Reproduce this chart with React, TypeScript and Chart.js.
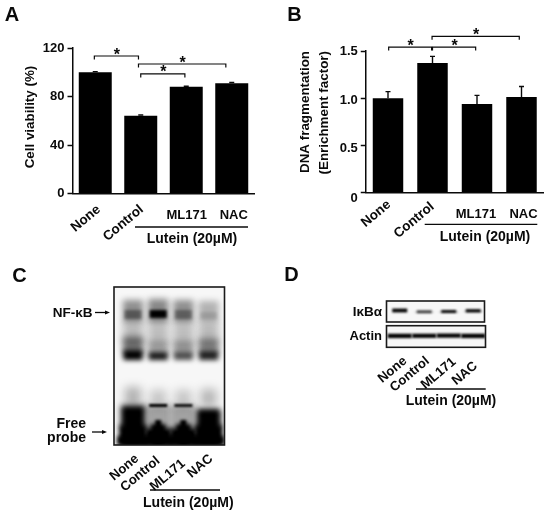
import { useEffect, useRef } from 'react';
import { Chart, registerables } from 'chart.js';

Chart.register(...registerables);

const FONT = '"Liberation Sans", Arial, sans-serif';
const INK = '#0a0a0a';

// ---- Panels A and B ----
const treatments = ['None', 'Control', 'ML171', 'NAC'];
const viability = [100, 64.2, 88, 91];
const viabilityErr = [0.5, 0.5, 0.5, 0.5];
const fragmentation = [1.0, 1.372, 0.94, 1.013];
const fragmentationErr = [0.07, 0.071, 0.09, 0.112];
const viabilityTicks = [0, 40, 80, 120];
const fragmentationTicks = [0, 0.5, 1.0, 1.5];
// bracket: [from category, to category, height on the value axis]
const viabilityBrackets = [
  [-0.02, 0.95, 113.4],
  [1.0, 1.97, 98.6],
  [0.95, 2.87, 106.8],
];
const fragmentationBrackets = [
  [0.015, 0.98, 1.542],
  [1.0, 1.97, 1.542],
  [0.99, 2.95, 1.655],
];

// ---- Panel C: gel bands, read as distance above the gel bottom ----
const upperSmear = { from: [122, 122, 122, 122], to: [145, 146, 145, 144], ink: [0.42, 0.45, 0.42, 0.28], width: 20, blur: 3 };
const nfkbBand = { from: [126, 127, 126, 126], to: [135, 135, 135, 133], ink: [0.4, 1, 0.35, 0.12], width: 17, blur: 1.8 };
const middleSmear = { from: [100, 100, 100, 100], to: [122, 122, 122, 122], ink: [0.26, 0.24, 0.24, 0.26], width: 20, blur: 4 };
const lowerSmear = { from: [90, 90, 90, 90], to: [108, 104, 104, 106], ink: [0.5, 0.32, 0.36, 0.45], width: 20, blur: 3 };
const lowerBand = { from: [85, 85, 85, 85], to: [95, 93, 93, 94], ink: [1, 0.9, 0.65, 0.85], width: 19, blur: 2.4 };
const probeFade = { from: [38, 38, 38, 38], to: [58, 55, 55, 56], ink: [0.28, 0.2, 0.2, 0.26], width: 16, blur: 5 };
const probeHalo = { from: [16, 16, 16, 16], to: [40, 40, 40, 36], ink: [0.6, 0.34, 0.34, 0.6], width: 25, blur: 3 };
const probeShift = { from: [0, 38, 38, 0], to: [0, 41, 41, 0], ink: [0, 1, 0.9, 0], width: 18, blur: 1.1 };
const probeShoulder = { from: [0, 0, 0, 0], to: [38, 0, 0, 35], ink: [1, 0, 0, 1], width: 21, blur: 2.4 };
const probeFoot = { from: [0, 0, 0, 0], to: [9, 9, 9, 9], ink: [1, 1, 1, 1], width: 31, blur: 2 };
const probeBase = { from: [0, 0, 0, 0], to: [20, 17, 17, 20], ink: [1, 1, 1, 1], width: 27, blur: 2.4 };
const probeRise = { from: [0, 0, 0, 0], to: [0, 21, 21, 0], ink: [0, 1, 1, 0], width: 15, blur: 2 };
const probePeak = { from: [0, 0, 0, 0], to: [0, 25, 25, 0], ink: [0, 1, 1, 0], width: 6, blur: 1.6 };
const probeNotch = { from: [17, 0, 0, 22], to: [34, 0, 0, 33], ink: [0.85, 0, 0, 0.8], width: 5, blur: 1.6, light: true };
const gelBands = [upperSmear, nfkbBand, middleSmear, lowerSmear, lowerBand, probeFade, probeHalo, probeShift, probeShoulder, probeFoot, probeBase, probeRise, probePeak, probeNotch];

// ---- Panel D: western blot bands, read as distance above each strip's bottom ----
const ikbaBand = { from: [9.6, 8.8, 9, 9.6], to: [13.4, 11.6, 12, 12.8], ink: [1, 0.75, 0.95, 1], width: 15, blur: 1 };
const ikbaTail = { from: [10, 9.4, 9.4, 10.2], to: [11.6, 10.4, 10.4, 11], ink: [0, 0.2, 0.25, 0.25], width: 20, blur: 1 };
const actinBand = { from: [9.2, 9.4, 9.6, 9.2], to: [13.6, 13.6, 13.8, 13.6], ink: [1, 1, 1, 1], width: 24, blur: 1 };

type Txt = { t: string; x: number; y: number; size?: number; align?: CanvasTextAlign };
type Extra = {
  errors?: number[];
  brackets?: number[][];
  texts?: Txt[];
  lines?: number[][];
  arrows?: number[][];
  frame?: boolean;
  nudge?: Record<string, number[][]>;
};

const noteText = (ctx: CanvasRenderingContext2D, n: Txt) => {
  ctx.font = `bold ${n.size ?? 13}px ${FONT}`;
  ctx.fillStyle = INK;
  ctx.textAlign = n.align ?? 'center';
  ctx.textBaseline = 'middle';
  ctx.fillText(n.t, n.x, n.y);
};

const overlay = (extra: Extra) => ({
  id: 'overlay',
  beforeDraw(chart: any) {
    Object.values(chart.scales).forEach((sc: any) => {
      // labels may hang past the fixed-height axis boxes
      sc._computeLabelArea = () => null;
    });
    const nudge = extra.nudge ?? {};
    Object.keys(nudge).forEach((id) => {
      chart.scales[id].getLabelItems(chart.chartArea).forEach((it: any, i: number) => {
        const n = nudge[id][i];
        if (!n || it.moved) return;
        it.options.translation[0] += n[0];
        it.options.translation[1] += n[1];
        it.moved = true;
      });
    });
  },
  beforeDatasetsDraw(chart: any) {
    if (!extra.frame) return;
    const { left, top, width, height } = chart.chartArea;
    chart.ctx.fillStyle = '#f7f7f7';
    chart.ctx.fillRect(left, top, width, height);
  },
  beforeDatasetDraw(chart: any, args: any) {
    const blur = chart.data.datasets[args.index].blur;
    if (blur) {
      chart.ctx.save();
      chart.ctx.filter = `blur(${blur}px)`;
    }
  },
  afterDatasetDraw(chart: any, args: any) {
    if (chart.data.datasets[args.index].blur) chart.ctx.restore();
  },
  afterDraw(chart: any) {
    const ctx: CanvasRenderingContext2D = chart.ctx;
    ctx.save();
    ctx.strokeStyle = INK;
    ctx.lineWidth = 1.4;
    if (extra.frame) {
      const { left, top, width, height } = chart.chartArea;
      ctx.lineWidth = 1.6;
      ctx.strokeStyle = '#1a1a1a';
      ctx.strokeRect(left, top, width, height);
      ctx.strokeStyle = INK;
      ctx.lineWidth = 1.4;
    }
    const xs = chart.scales.x;
    const ys = chart.scales.y;
    (extra.errors ?? []).forEach((e, i) => {
      const v = chart.data.datasets[0].data[i];
      const px = xs.getPixelForValue(i);
      const top = ys.getPixelForValue(v + e);
      const base = ys.getPixelForValue(v);
      ctx.beginPath();
      ctx.moveTo(px, base);
      ctx.lineTo(px, top);
      ctx.moveTo(px - 2.5, top);
      ctx.lineTo(px + 2.5, top);
      ctx.stroke();
    });
    (extra.brackets ?? []).forEach(([a, b, v]) => {
      const x0 = xs.getPixelForValue(0) + a * (xs.getPixelForValue(1) - xs.getPixelForValue(0));
      const x1 = xs.getPixelForValue(0) + b * (xs.getPixelForValue(1) - xs.getPixelForValue(0));
      const y = ys.getPixelForValue(v);
      ctx.lineWidth = 1.2;
      ctx.beginPath();
      ctx.moveTo(x0, y + 3.5);
      ctx.lineTo(x0, y);
      ctx.lineTo(x1, y);
      ctx.lineTo(x1, y + 3.5);
      ctx.stroke();
      ctx.font = `bold 16px ${FONT}`;
      ctx.fillStyle = INK;
      ctx.textAlign = 'center';
      ctx.textBaseline = 'alphabetic';
      ctx.fillText('*', (x0 + x1) / 2 + 0.5, y + 3.5);
    });
    ctx.lineWidth = 1.3;
    (extra.lines ?? []).forEach(([x0, y0, x1, y1]) => {
      ctx.beginPath();
      ctx.moveTo(x0, y0);
      ctx.lineTo(x1, y1);
      ctx.stroke();
    });
    (extra.arrows ?? []).forEach(([x0, y, x1]) => {
      ctx.beginPath();
      ctx.moveTo(x0, y);
      ctx.lineTo(x1 - 3, y);
      ctx.stroke();
      ctx.beginPath();
      ctx.fillStyle = INK;
      ctx.moveTo(x1, y);
      ctx.lineTo(x1 - 5, y - 2);
      ctx.lineTo(x1 - 5, y + 2);
      ctx.closePath();
      ctx.fill();
    });
    (extra.texts ?? []).forEach((n) => noteText(ctx, n));
    ctx.restore();
  },
});

type BarSpec = {
  values: number[];
  ticks: number[];
  top: number;
  bottom: number;
  left: number;
  right: number;
  titleLeft: number;
  titleLine: number;
  title: string | string[];
  titleAlign: 'center' | 'end';
  barShare: number;
  padRot: number;
  padFlat: number;
};

const barChart = (canvas: HTMLCanvasElement, s: BarSpec, extra: Extra) =>
  new Chart(canvas, {
    type: 'bar',
    data: {
      labels: treatments,
      datasets: [{ data: s.values, backgroundColor: '#000', borderWidth: 0, categoryPercentage: 1, barPercentage: s.barShare }],
    },
    plugins: [overlay(extra)],
    options: {
      animation: false,
      responsive: false,
      layout: { padding: { top: s.top, left: s.titleLeft, right: 550 - s.right, bottom: 515 - s.bottom - 68 } },
      plugins: { legend: { display: false }, tooltip: { enabled: false } },
      scales: {
        x: {
          type: 'category',
          offset: true,
          grid: { display: false, drawTicks: false },
          border: { color: INK, width: 1.5 },
          ticks: {
            minRotation: 40,
            maxRotation: 40,
            autoSkip: false,
            padding: s.padRot,
            color: INK,
            font: { family: FONT, weight: 'bold', size: 13.5 },
            callback: (_v: any, i: number) => (i < 2 ? treatments[i] : ''),
          },
          afterFit: (sc: any) => {
            sc.height = 8;
          },
        },
        x2: {
          type: 'category',
          position: 'bottom',
          offset: true,
          labels: treatments,
          grid: { display: false, drawTicks: false },
          border: { display: false },
          ticks: {
            minRotation: 0,
            maxRotation: 0,
            autoSkip: false,
            padding: s.padFlat,
            color: INK,
            font: { family: FONT, weight: 'bold', size: 13 },
            callback: (_v: any, i: number) => (i >= 2 ? treatments[i] : ''),
          },
          afterFit: (sc: any) => {
            sc.height = 60;
          },
        },
        y: {
          min: s.ticks[0],
          max: s.ticks[s.ticks.length - 1],
          afterBuildTicks: (sc: any) => {
            sc.ticks = s.ticks.map((value) => ({ value }));
          },
          grid: { drawOnChartArea: false, tickLength: 5, tickWidth: 1.5, color: INK },
          border: { color: INK, width: 1.5 },
          ticks: {
            padding: 3,
            color: INK,
            font: { family: FONT, weight: 'bold', size: 13 },
            callback: (v: any) => (s.ticks[s.ticks.length - 1] > 10 ? String(v) : v === 0 ? '0' : Number(v).toFixed(1)),
          },
          title: {
            display: true,
            text: s.title,
            align: s.titleAlign,
            color: INK,
            padding: 0,
            font: { family: FONT, weight: 'bold', size: 13.4, lineHeight: s.titleLine },
          },
          afterFit: (sc: any) => {
            sc.width = s.left - s.titleLeft;
          },
        },
      },
    } as any,
  });

type BlotSpec = {
  area: number[]; // left, top, right, bottom
  xMin: number;
  xMax: number;
  yMax: number;
  bands: any[];
  labels: boolean;
  padRot?: number;
};

const blotChart = (canvas: HTMLCanvasElement, s: BlotSpec, extra: Extra) => {
  const [l, t, r, b] = s.area;
  const span = (r - l) / (s.xMax - s.xMin);
  return new Chart(canvas, {
    type: 'bar',
    data: {
      datasets: s.bands.map((band) => ({
        data: treatments.map((_n, i) => ({ x: i, y: [band.from[i], band.to[i]] })),
        backgroundColor: band.ink.map((k: number) => (band.light ? `rgba(235,235,235,${k})` : `rgba(0,0,0,${k})`)),
        borderWidth: 0,
        grouped: false,
        categoryPercentage: 1,
        barPercentage: band.width / span,
        blur: band.blur,
      })),
    },
    plugins: [overlay({ ...extra, frame: true })],
    options: {
      animation: false,
      responsive: false,
      layout: { padding: { top: t, left: l, right: 550 - r, bottom: 515 - b - 8 } },
      plugins: { legend: { display: false }, tooltip: { enabled: false } },
      scales: {
        x: {
          type: 'linear',
          display: s.labels,
          offset: false,
          min: s.xMin,
          max: s.xMax,
          grid: { display: false, drawTicks: false },
          border: { display: false },
          ticks: {
            stepSize: 1,
            includeBounds: false,
            autoSkip: false,
            minRotation: 40,
            maxRotation: 40,
            padding: s.padRot ?? 2,
            color: INK,
            font: { family: FONT, weight: 'bold', size: 13.2 },
            callback: (v: any) => treatments[v] ?? '',
          },
          afterFit: (sc: any) => {
            sc.height = 8;
          },
        },
        y: { display: false, min: 0, max: s.yMax },
      },
    } as any,
  });
};

export default function App() {
  const a = useRef<HTMLCanvasElement>(null);
  const b = useRef<HTMLCanvasElement>(null);
  const c = useRef<HTMLCanvasElement>(null);
  const d1 = useRef<HTMLCanvasElement>(null);
  const d2 = useRef<HTMLCanvasElement>(null);

  useEffect(() => {
    const charts = [
      barChart(
        a.current!,
        {
          values: viability,
          ticks: viabilityTicks,
          top: 48,
          bottom: 193.5,
          left: 72.5,
          right: 254.5,
          titleLeft: 22,
          titleLine: 1.2,
          title: '  Cell viability (%)',
          titleAlign: 'center',
          barShare: 0.725,
          padRot: 8,
          padFlat: 6,
        },
        {
          errors: viabilityErr,
          brackets: viabilityBrackets,
          nudge: { x: [[3.5, 0], [1, 0]], x2: [[0, 0], [0, 0], [0.5, 0], [2, 0]] },
          lines: [[135, 227, 248, 227]],
          texts: [
            { t: 'A', x: 12, y: 15.5, size: 20 },
            { t: 'Lutein (20µM)', x: 192, y: 239, size: 14 },
          ],
        },
      ),
      barChart(
        b.current!,
        {
          values: fragmentation,
          ticks: fragmentationTicks,
          top: 51,
          bottom: 192.7,
          left: 365.75,
          right: 543.75,
          titleLeft: 296,
          titleLine: 1.4,
          title: ['DNA fragmentation', '(Enrichment factor)'],
          titleAlign: 'end',
          barShare: 0.685,
          padRot: 6,
          padFlat: 5.5,
        },
        {
          errors: fragmentationErr,
          brackets: fragmentationBrackets,
          nudge: {
            x: [[1, -2], [0, 0]],
            y: [[0, 5.3], [0, 3.3], [0, 2], [0, 0.7]],
            x2: [[0, 0], [0, 0], [-1, 0], [2, 0]],
          },
          lines: [[424.7, 224.3, 537.3, 224.3]],
          texts: [
            { t: 'B', x: 294.5, y: 15.5, size: 20 },
            { t: 'Lutein (20µM)', x: 485, y: 237, size: 14 },
          ],
        },
      ),
      blotChart(
        c.current!,
        {
          area: [114, 287, 224.5, 445],
          xMin: -0.754,
          xMax: 3.63,
          yMax: 158,
          bands: gelBands,
          labels: true,
          padRot: 6,
        },
        {
          nudge: { x: [[4, 0], [0, 2], [0, 5], [2.5, 0]] },
          lines: [[150, 490, 220, 490]],
          arrows: [[95, 312.5, 110], [92, 432, 107]],
          texts: [
            { t: 'C', x: 19.5, y: 276, size: 20 },
            { t: 'NF-κB', x: 92.5, y: 313, size: 13.5, align: 'right' },
            { t: 'Free', x: 86, y: 424, size: 14, align: 'right' },
            { t: 'probe', x: 86, y: 437.7, size: 14, align: 'right' },
            { t: 'Lutein (20µM)', x: 188.3, y: 503.3, size: 14 },
          ],
        },
      ),
      blotChart(
        d1.current!,
        { area: [386.5, 301, 484.5, 322], xMin: -0.54, xMax: 3.46, yMax: 21, bands: [ikbaTail, ikbaBand], labels: false },
        {
          texts: [
            { t: 'D', x: 291.5, y: 275, size: 20 },
            { t: 'IκBα', x: 382, y: 312.5, size: 13.5, align: 'right' },
            { t: 'Actin', x: 382, y: 336.5, size: 13, align: 'right' },
          ],
        },
      ),
      blotChart(
        d2.current!,
        { area: [386.5, 325.7, 485.5, 347.3], xMin: -0.54, xMax: 3.5, yMax: 21.6, bands: [actinBand], labels: true, padRot: 6 },
        {
          nudge: { x: [[5.5, 0], [3.5, 0], [5.5, 1], [2.5, 5]] },
          lines: [[416, 389, 485.7, 389]],
          texts: [{ t: 'Lutein (20µM)', x: 451, y: 401.3, size: 14 }],
        },
      ),
    ];
    return () => charts.forEach((ch) => ch.destroy());
  }, []);

  const style = { position: 'absolute', left: 0, top: 0, width: 550, height: 515 } as const;
  return (
    <div style={{ position: 'fixed', left: 0, top: 0, width: 550, height: 515, background: '#fff', overflow: 'hidden' }}>
      {[a, b, c, d1, d2].map((r, i) => (
        <canvas key={i} ref={r} width={550} height={515} style={style} />
      ))}
    </div>
  );
}
